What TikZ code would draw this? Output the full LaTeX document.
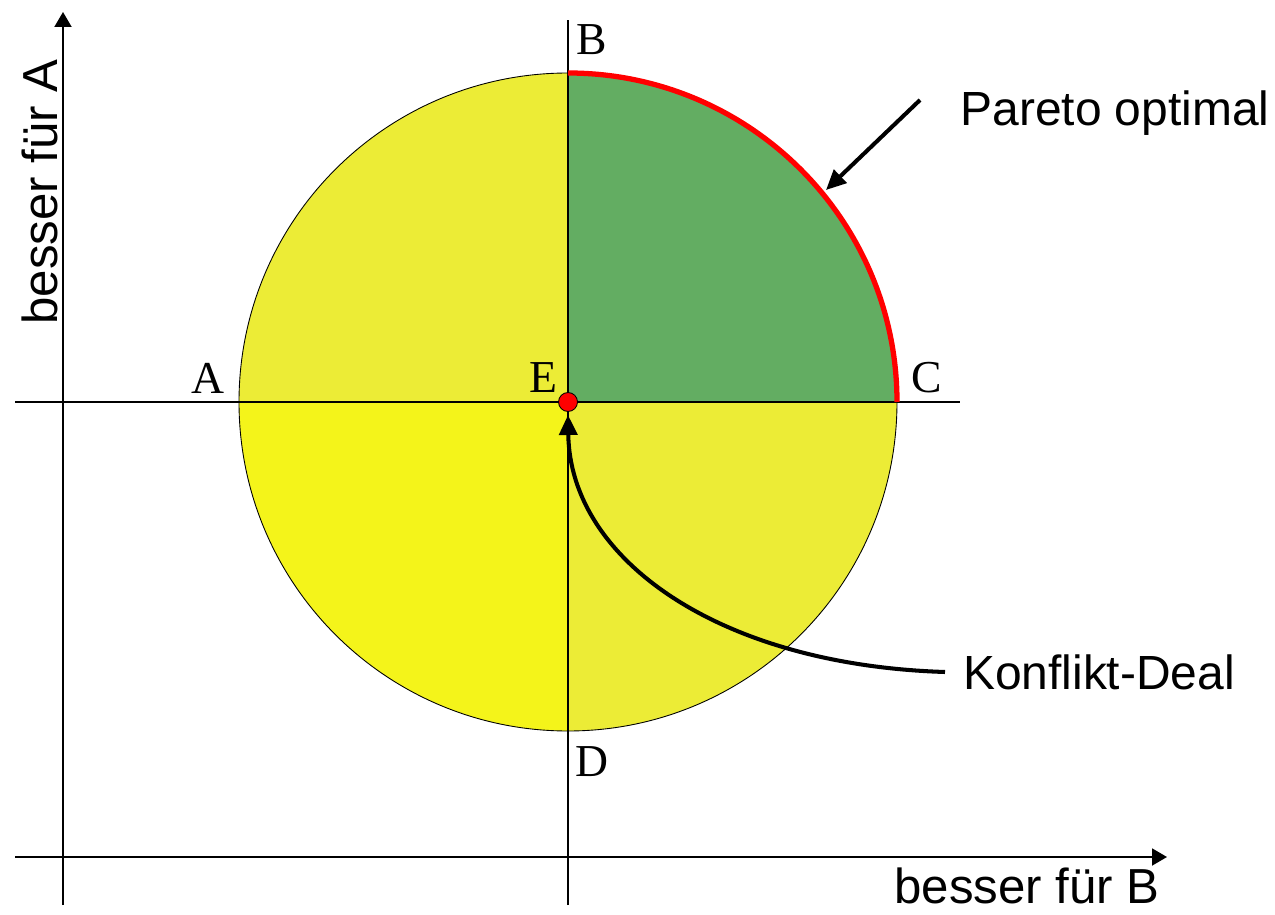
\documentclass[tikz,border=0pt]{standalone}
\usepackage{fontspec}
\setmainfont{Liberation Serif}
\newfontfamily\labelfont{Liberation Sans}
\usetikzlibrary{positioning, arrows.meta, calc}
\definecolor{paretogreen}{RGB}{99,173,98}
\definecolor{softyellow}{RGB}{236,236,54}
\definecolor{brightyellow}{RGB}{244,244,26}
\tikzset{axis_t/.style={-{Triangle[length=3mm,width=3.4mm]}, line width=1.1pt},
guide/.style={line width=1.1pt},
pt_label/.style={font=\fontsize{26}{30}\selectfont, inner sep=2pt},
txt_label/.style={font=\labelfont\fontsize{27.3}{32}\selectfont, inner sep=2pt},
axis_label/.style={font=\labelfont\fontsize{28}{33}\selectfont, inner sep=2pt},
callout/.style={-{Triangle[length=4mm,width=3.6mm]}, line width=2.3pt}}

\begin{document}
\begin{tikzpicture}[x=0.02cm, y=0.02cm]
  \useasboundingbox (0,0) rectangle (1275,914);
  % centre and circle points
  \coordinate (E) at (568,512);
  \coordinate (A) at (239,512);
  \coordinate (B) at (568,841);
  \coordinate (C) at (897,512);
  \coordinate (D) at (568,183);
  % quadrants
  \fill[paretogreen] (E) -- (C) arc[start angle=0, end angle=90, radius=329] -- cycle;
  \fill[softyellow] (E) -- (B) arc[start angle=90, end angle=180, radius=329] -- cycle;
  \fill[brightyellow] (E) -- (A) arc[start angle=180, end angle=270, radius=329] -- cycle;
  \fill[softyellow] (E) -- (D) arc[start angle=270, end angle=360, radius=329] -- cycle;
  \draw[line width=0.5pt] (E) circle[radius=329];
  % axes
  \coordinate (yA0) at (63,9);
  \coordinate (yA1) at (63,902);
  \coordinate (xB0) at (15,57);
  \coordinate (xB1) at (1167,57);
  \draw[axis_t] (yA0) -- (yA1);
  \draw[axis_t] (xB0) -- (xB1);
  % lines through E
  \coordinate (hL) at (15,512);
  \coordinate (hR) at (960,512);
  \coordinate (vB) at (568,9);
  \coordinate (vT) at (568,894);
  \draw[guide] (hL) -- (hR);
  \draw[guide] (vB) -- (vT);
  % pareto front
  \draw[red, line width=3pt] (C) arc[start angle=0, end angle=90, radius=329];
  % point labels
  \node[pt_label] (lA) at (208,536) {A};
  \node[pt_label] (lB) at (592,874) {B};
  \node[pt_label] (lC) at (927,536) {C};
  \node[pt_label] (lD) at (592,152) {D};
  \node[pt_label] (lE) at (543,536) {E};
  % axis labels
  \node[axis_label] (axB) at (1027,28) {besser für B};
  \node[axis_label, rotate=90] (axA) at (40,722) {besser für A};
  % callouts
  \node[txt_label] (pareto) at (1115,801) {Pareto optimal};
  \node[txt_label] (deal) at (1099,242) {Konflikt-Deal};
  \coordinate (pStart) at (920,814);
  \coordinate (pEnd) at (826,724);
  \draw[callout] (pStart) -- (pEnd);
  \coordinate (dStart) at (945,242);
  \coordinate (dEnd) at (568,499);
  \draw[callout] (dStart) .. controls (720,249) and (570,354) .. (dEnd);
  \node[circle, draw, fill=red, line width=0.5pt, minimum size=0.38cm, inner sep=0pt] (dot) at (E) {};
\end{tikzpicture}
\end{document}
